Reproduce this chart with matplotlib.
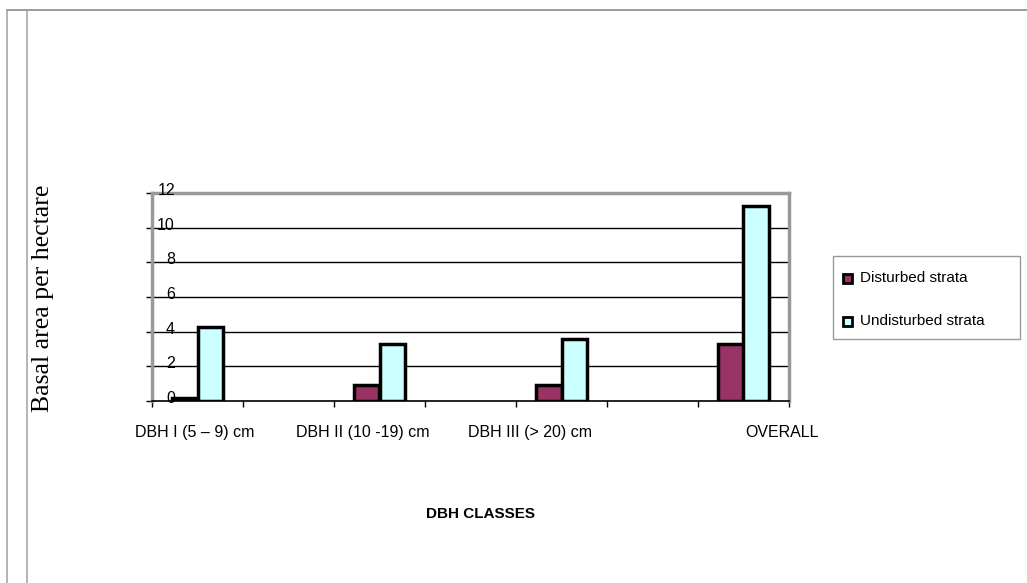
import matplotlib
matplotlib.use("Agg")
import matplotlib.pyplot as plt
from matplotlib.lines import Line2D
from matplotlib.patches import Rectangle
import numpy as np

# ---- data ----
categories = ["DBH I (5 – 9) cm", "", "DBH II (10 -19) cm", "", "DBH III (> 20) cm", "", "OVERALL"]
disturbed = [0.2, 0, 0.9, 0, 0.9, 0, 3.3]
undisturbed = [4.25, 0, 3.3, 0, 3.55, 0, 11.25]
bar_slots = [0, 2, 4, 6]
series_names = ["Disturbed strata", "Undisturbed strata"]
yticks = [0, 2, 4, 6, 8, 10, 12]

# ---- style ----
C_DIST = "#993366"
C_UND = "#CCFFFF"
W, H = 1027, 583
fig = plt.figure(figsize=(W / 100, H / 100), dpi=100)
fig.patch.set_facecolor("white")

def fx(px):
    return px / W

def fy(py):
    return 1 - py / H

# page border lines
fig.add_artist(Line2D([fx(7), fx(1027)], [fy(10), fy(10)], color="#808080", lw=1.1))
fig.add_artist(Line2D([fx(7), fx(7)], [fy(10), fy(583)], color="#a0a0a0", lw=1.1))
fig.add_artist(Line2D([fx(27), fx(27)], [fy(10), fy(583)], color="#a0a0a0", lw=1.1))

L, R, T, B = 152, 789, 193, 401
ax = fig.add_axes([fx(L), fy(B), fx(R - L), fy(T) - fy(B)])
ax.set_xlim(-0.5, len(categories) - 0.5)
ax.set_ylim(0, 12)

for s in ["left", "top", "right"]:
    ax.spines[s].set_color("#999999")
    ax.spines[s].set_linewidth(2.5)
ax.spines["bottom"].set_color("black")
ax.spines["bottom"].set_linewidth(1.2)

for yv in yticks[1:-1]:
    ax.axhline(yv, color="black", lw=1.0, zorder=1)

bw = 0.285
x = np.arange(len(categories))
for i in bar_slots:
    ax.bar(x[i] - bw / 2, disturbed[i], width=bw, color=C_DIST, edgecolor="black",
           linewidth=2.5, zorder=3)
    ax.bar(x[i] + bw / 2, undisturbed[i], width=bw, color=C_UND, edgecolor="black",
           linewidth=2.5, zorder=3)

# y ticks
ax.set_yticks(yticks)
ax.set_yticklabels([])
ax.tick_params(axis="y", direction="out", length=4, width=1, color="black")
ytr = ax.get_yaxis_transform()
for yv in yticks:
    ax.text(0.036, yv + 0.15, str(yv), transform=ytr, ha="right", va="center",
            fontsize=11.5, family="Liberation Sans", zorder=5)

# x ticks at slot boundaries
ax.set_xticks(np.arange(-0.5, len(categories), 1.0))
ax.set_xticklabels([])
ax.tick_params(axis="x", direction="out", length=4, width=1, color="black")

# category labels (Excel-style placement)
label_px = [195, 363, 530, 782]
for lab, px in zip([c for c in categories if c], label_px):
    fig.text(fx(px), fy(437), lab, ha="center", va="baseline", fontsize=11.5,
             family="Liberation Sans")

fig.text(fx(481), fy(514), "DBH CLASSES", ha="center", va="center", fontsize=11,
         family="Liberation Sans", fontweight="bold")
fig.text(fx(43), fy(298), "Basal area per hectare", ha="center", va="center",
         rotation=90, fontsize=18.5, family="Liberation Serif")

# legend box
fig.add_artist(Rectangle((fx(833), fy(339)), fx(1020 - 833), fy(256) - fy(339),
                         facecolor="white", edgecolor="#999999", lw=1.0))
for name, col, py in zip(series_names, [C_DIST, C_UND], [278, 321]):
    fig.add_artist(Rectangle((fx(843), fy(py + 4.5)), fx(9), fy(py - 4.5) - fy(py + 4.5),
                             facecolor=col, edgecolor="black", lw=2.0))
    fig.text(fx(860), fy(py), name, ha="left", va="center", fontsize=11,
             family="Liberation Sans")

fig.savefig("out.png", dpi=100)
